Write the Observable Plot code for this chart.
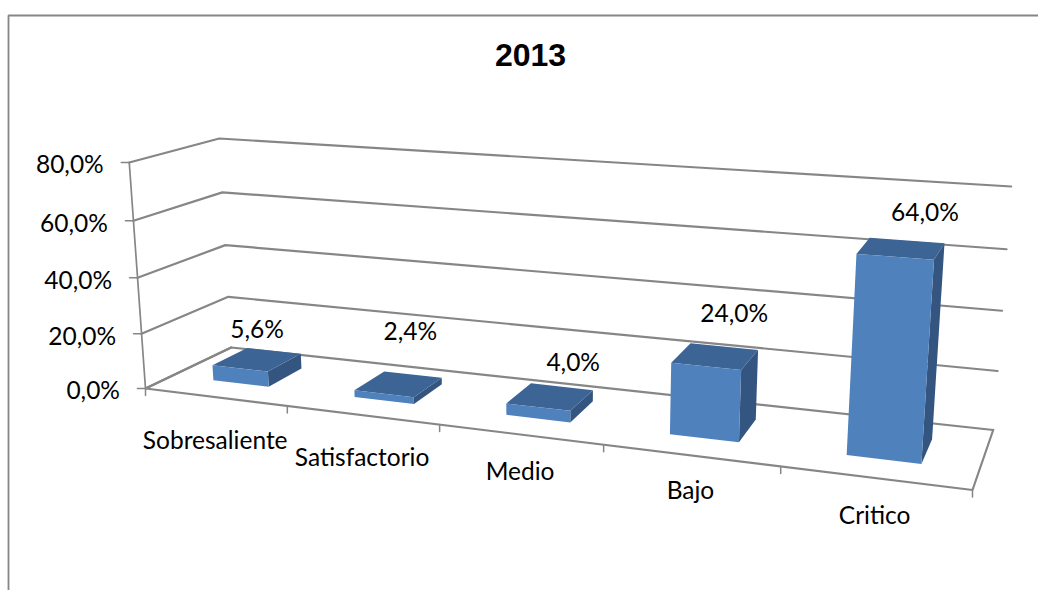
<!DOCTYPE html>
<html>
<head>
<meta charset="utf-8">
<script src="https://cdn.jsdelivr.net/npm/d3@7"></script>
<script src="https://cdn.jsdelivr.net/npm/@observablehq/plot@0.6"></script>
<style>html,body{margin:0;padding:0;background:#fff}svg{display:block}</style>
</head>
<body>
<div id="chart"></div>
<script>
const titleText = "2013";
const categories = ["Sobresaliente", "Satisfactorio", "Medio", "Bajo", "Critico"];
const values = [5.6, 2.4, 4.0, 24.0, 64.0];
const axisTicks = [0, 20, 40, 60, 80];
const axisLabels = ["0,0%", "20,0%", "40,0%", "60,0%", "80,0%"];
const valueLabels = ["5,6%", "2,4%", "4,0%", "24,0%", "64,0%"];

// Layout of the perspective box: floor corners and wall heights on screen
const floor = {fl: [145, 388], fr: [972, 489.5], bl: [230.7, 347], br: [992.7, 429.5]};
const wallH = {fl: 226, fr: 268, bl: 209, br: 243.5};
const vanishX = 563, lean = 1.72e-4;
const bar = {half: 0.2, front: 0.32, back: 0.74};
const catDrop = [44.5, 42.6, 38, 36, 38];
const labelShift = [[2.5, -31], [14, -53], [25, -35], [20.5, -44], [25, -37]];

const lerp = (a, b, t) => a + (b - a) * t;
const alongX = u => { const t = u / categories.length; return 0.828 * t / (1 - 0.172 * t); };
const alongV = v => { const t = v / 80; return 0.96 * t / (1 - 0.04 * t); };
// (category position u, value v, depth w) -> point on screen
function project(u, v, w) {
  const s = alongX(u);
  const x0 = lerp(lerp(floor.fl[0], floor.fr[0], s), lerp(floor.bl[0], floor.br[0], s), w);
  const y0 = lerp(lerp(floor.fl[1], floor.fr[1], s), lerp(floor.bl[1], floor.br[1], s), w);
  const h = lerp(lerp(wallH.fl, wallH.fr, s), lerp(wallH.bl, wallH.br, s), w) * alongV(v);
  return {x: x0 + (x0 - vanishX) * lean * h, y: y0 - h};
}

const tag = (id, pts) => pts.map(p => ({...p, id}));
const n = categories.length;

const wall = axisTicks.flatMap(v => tag("w" + v, [project(0, v, 0), project(0, v, 1), project(n, v, 1)]));
const axisLine = tag("a", [project(0, 80, 0), project(0, 0, 0)]);
const floorLines = tag("f", [project(0, 0, 1), project(0, 0, 0), project(n, 0, 0), project(n, 0, 1)]);
const yTicks = axisTicks.flatMap(v => { const p = project(0, v, 0); return tag("yt" + v, [p, {x: p.x - 8, y: p.y}]); });
const xTicks = d3.range(n + 1).flatMap(i => { const p = project(i, 0, 0); return tag("xt" + i, [p, {x: p.x, y: p.y + 7}]); });
const frame = tag("b", [{x: 8, y: 590}, {x: 8, y: 15}, {x: 1038, y: 15}]);

const faces = {front: [], top: [], side: []};
values.forEach((v, i) => {
  const a = i + 0.5 - bar.half, b = i + 0.5 + bar.half, f = bar.front, k = bar.back;
  faces.front.push(...tag("b" + i, [project(a, 0, f), project(b, 0, f), project(b, v, f), project(a, v, f), project(a, 0, f)]));
  faces.top.push(...tag("b" + i, [project(a, v, f), project(b, v, f), project(b, v, k), project(a, v, k), project(a, v, f)]));
  faces.side.push(...tag("b" + i, [project(b, 0, f), project(b, 0, k), project(b, v, k), project(b, v, f), project(b, 0, f)]));
});

const catText = categories.map((c, i) => { const p = project(i + 0.5, 0, 0); return {x: p.x, y: p.y + catDrop[i], t: c}; });
const valText = values.map((v, i) => { const p = project(i + 0.5, v, 0.5); return {x: p.x + labelShift[i][0], y: p.y + labelShift[i][1], t: valueLabels[i]}; });
const tickText = axisTicks.map((v, i) => { const p = project(0, v, 0); return {x: p.x - 25.5, y: p.y + 3, t: axisLabels[i]}; });

const gray = "#868686";
const ln = (d, w = 2.2) => Plot.line(d, {x: "x", y: "y", z: "id", stroke: gray, strokeWidth: w, strokeLinejoin: "miter"});
const face = (d, c) => Plot.line(d, {x: "x", y: "y", z: "id", fill: c, stroke: "none"});
const txt = (d, o) => Plot.text(d, {x: "x", y: "y", text: "t", fill: "#000", fontFamily: "Lato, Carlito, sans-serif", fontSize: 24.5, ...o});

const chart = Plot.plot({
  width: 1038,
  height: 590,
  margin: 0,
  x: {domain: [0, 1038], range: [0, 1038], axis: null},
  y: {domain: [0, 590], range: [0, 590], axis: null},
  style: {background: "#fff"},
  marks: [
    ln(frame, 1.8),
    ln(wall),
    ln(axisLine, 1.7),
    ln(floorLines),
    ln(yTicks, 1.5),
    ln(xTicks, 1.5),
    face(faces.side, "#335580"),
    face(faces.top, "#3c6494"),
    face(faces.front, "#4f81bd"),
    txt(tickText, {textAnchor: "end"}),
    txt(catText, {}),
    txt(valText, {}),
    Plot.text([{x: 530, y: 55, t: titleText}], {x: "x", y: "y", text: "t", fill: "#000", fontFamily: "'Liberation Sans', Arial, sans-serif", fontWeight: "bold", fontSize: 32})
  ]
});
document.getElementById("chart").append(chart);
</script>
</body>
</html>
